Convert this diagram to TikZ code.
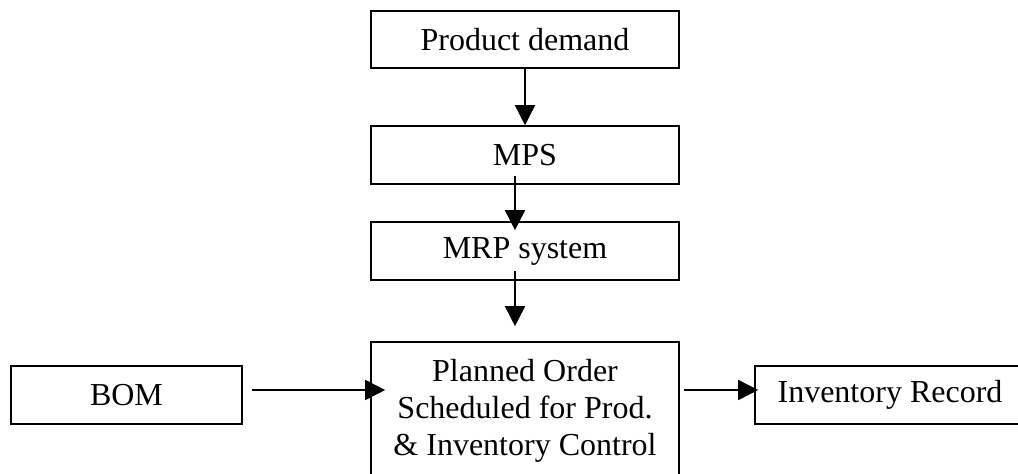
\documentclass[tikz,border=0pt]{standalone}
\usepackage{fontspec}
\setmainfont{Liberation Serif}
\usetikzlibrary{arrows.meta}
\begin{document}
\begin{tikzpicture}[x=1pt,y=-1pt,
  boxnode/.style={draw=black,line width=1.6pt,rectangle,inner sep=0pt,
    align=center,font=\fontsize{32}{37}\selectfont,minimum height=58pt},
  arr/.style={line width=1.6pt,-{Triangle[length=20pt,width=20pt]}}]
\useasboundingbox (0,0) rectangle (1018,474);
\node[boxnode,minimum width=308pt,minimum height=57pt] (pd) at (525,39.5) {Product demand};
\node[boxnode,minimum width=308pt] (mps) at (525,155) {MPS};
\node[boxnode,minimum width=308pt] (mrp) at (525,251) {MRP system};
\node[boxnode,minimum width=308pt,minimum height=138pt] (plan) at (525,411)
  {Planned Order\\Scheduled for Prod.\\\& Inventory Control};
\node[boxnode,minimum width=231pt] (bom) at (126.5,395) {BOM};
\node[boxnode,minimum width=270pt] (inv) at (890,395) {Inventory Record};
\coordinate (ay) at ([yshift=5pt]bom.east);
\draw[arr] (pd.south) -- (mps.north);
\draw[arr] ([xshift=-10pt,yshift=9pt]mps.south) -- ([xshift=-10pt,yshift=-9pt]mrp.north);
\draw[arr] ([xshift=-10pt,yshift=10pt]mrp.south) -- ([xshift=-10pt,yshift=15pt]plan.north);
\draw[arr,shorten <=9pt,shorten >=-15pt] (ay) -- (plan.west |- ay);
\draw[arr,shorten <=4pt,shorten >=-4pt] (plan.east |- ay) -- (inv.west |- ay);
\end{tikzpicture}
\end{document}
